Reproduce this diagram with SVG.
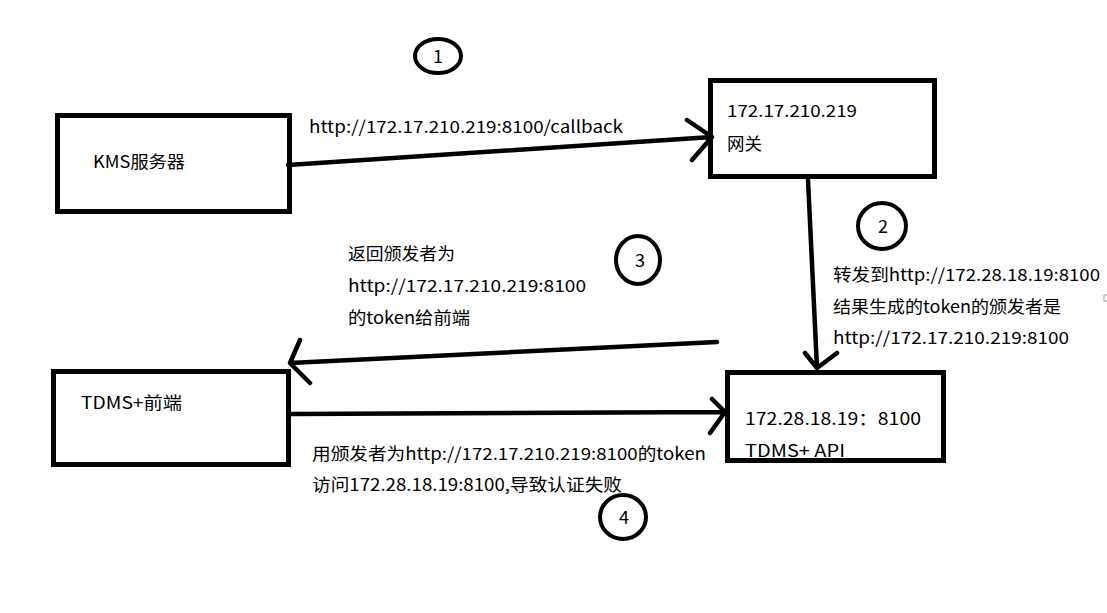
<svg xmlns="http://www.w3.org/2000/svg" width="1107" height="613" viewBox="0 0 1107 613">
<style>
.box{fill:none;stroke:#000;stroke-width:5}
.ln{fill:none;stroke:#000;stroke-width:4.5;stroke-linecap:round;stroke-linejoin:round}
.c{fill:none;stroke:#000;stroke-width:4}
text{font-family:"Microsoft YaHei","Noto Sans CJK SC","Noto Sans",sans-serif;font-size:17px;fill:#000}
.n{font-size:18px;text-anchor:middle}
</style>
<rect width="1107" height="613" fill="#fff"/>
<g id="connectors">
<path class="ln" d="M288 165 L712 137 M687 120 L712 137 L692 160"/>
<path class="ln" d="M808 180 L817 368 M805 353 L817 368 L837 353"/>
<path class="ln" d="M717 342 L290 363 M300 340 L290 363 L310 383"/>
<path class="ln" d="M291 414 L725 412 M712 399 L725 412 L710 433"/>
</g>
<g id="kms">
<rect class="box" x="57.5" y="115.5" width="232" height="96"/>
<text x="93" y="168" textLength="92" lengthAdjust="spacingAndGlyphs">KMS服务器</text>
</g>
<g id="gateway">
<rect class="box" x="710.5" y="80.5" width="224" height="96"/>
<text x="727" y="117" textLength="130" lengthAdjust="spacingAndGlyphs">172.17.210.219</text>
<text x="727" y="150" textLength="35" lengthAdjust="spacingAndGlyphs">网关</text>
</g>
<g id="frontend">
<rect class="box" x="53.5" y="371.5" width="235" height="93"/>
<text x="81" y="409" textLength="101" lengthAdjust="spacingAndGlyphs">TDMS+前端</text>
</g>
<g id="api">
<text x="745" y="425" textLength="176" lengthAdjust="spacingAndGlyphs">172.28.18.19：8100</text>
<text x="745" y="457" textLength="100" lengthAdjust="spacingAndGlyphs">TDMS+ API</text>
<rect class="box" x="727.5" y="372.5" width="216" height="88"/>
</g>
<g id="labels">
<text x="309" y="133" textLength="314" lengthAdjust="spacingAndGlyphs">http://172.17.210.219:8100/callback</text>
<text x="348" y="260" textLength="107" lengthAdjust="spacingAndGlyphs">返回颁发者为</text>
<text x="348" y="292" textLength="238" lengthAdjust="spacingAndGlyphs">http://172.17.210.219:8100</text>
<text x="348" y="324" textLength="122" lengthAdjust="spacingAndGlyphs">的token给前端</text>
<text x="833" y="281" textLength="267" lengthAdjust="spacingAndGlyphs">转发到http://172.28.18.19:8100</text>
<text x="833" y="313" textLength="228" lengthAdjust="spacingAndGlyphs">结果生成的token的颁发者是</text>
<text x="833" y="344" textLength="236" lengthAdjust="spacingAndGlyphs">http://172.17.210.219:8100</text>
<text x="312" y="460" textLength="394" lengthAdjust="spacingAndGlyphs">用颁发者为http://172.17.210.219:8100的token</text>
<text x="312" y="491" textLength="310" lengthAdjust="spacingAndGlyphs">访问172.28.18.19:8100,导致认证失败</text>
</g>
<g id="step1">
<ellipse class="c" cx="438" cy="56" rx="23" ry="17"/>
<text class="n" x="438" y="63">1</text>
</g>
<g id="step2">
<ellipse class="c" cx="882" cy="226" rx="24" ry="23"/>
<text class="n" x="883" y="233">2</text>
</g>
<g id="step3">
<ellipse class="c" cx="638" cy="260" rx="22" ry="24"/>
<text class="n" x="640" y="267">3</text>
</g>
<g id="step4">
<ellipse class="c" cx="623" cy="517" rx="23" ry="22"/>
<text class="n" x="624" y="524">4</text>
</g>
<path d="M1107 295 L1104 295 L1104 301 L1107 301" fill="none" stroke="#999" stroke-width="1"/>
</svg>
